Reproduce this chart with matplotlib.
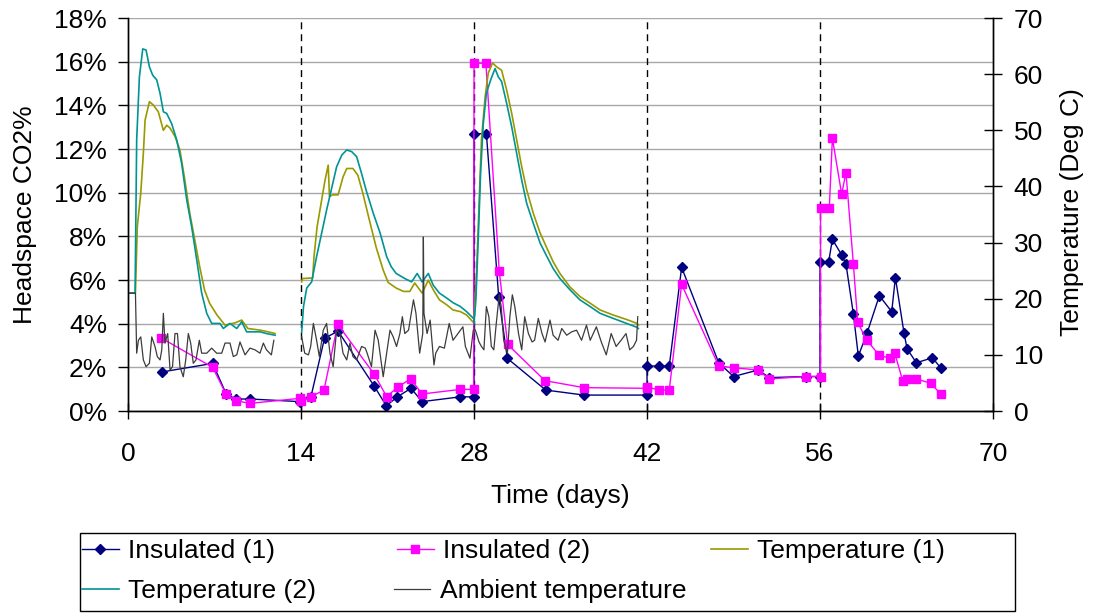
import matplotlib
matplotlib.use('Agg')
import matplotlib.pyplot as plt
from matplotlib.ticker import FuncFormatter
from matplotlib.patches import Rectangle

plt.rcParams['font.family'] = ['Liberation Sans', 'DejaVu Sans']

nan = float('nan')

# headspace CO2 (%) - insulated containers
ins1_day = [2.75, 6.85, 7.93, 8.7, 9.9, 13.9, 14.8, 15.9, 17.0, 19.9, 20.9, 21.8, 22.9, 23.8, 26.9,
            28.0, 28.0, 29.0, 30.0, 30.7, 33.8, 36.9, 42.0, 42.0, 43.0, 43.8, 44.8, 47.8, 49.0,
            51.0, 51.9, 54.9, 56.0, 56.0, 56.7, 57.0, 57.75, 58.1, 58.7, 59.1, 59.8, 60.8, 61.8,
            62.1, 62.8, 63.05, 63.8, 65.1, 65.8]
ins1_co2 = [1.79, 2.18, 0.8, 0.55, 0.55, 0.43, 0.65, 3.33, 3.66, 1.16, 0.24, 0.65, 1.04, 0.43, 0.65,
            0.65, 12.7, 12.7, 5.2, 2.41, 0.96, 0.73, 0.73, 2.06, 2.06, 2.06, 6.58, 2.21, 1.58,
            1.88, 1.53, 1.58, 1.58, 6.84, 6.84, 7.86, 7.15, 6.73, 4.44, 2.52, 3.56, 5.28, 4.55,
            6.11, 3.56, 2.84, 2.21, 2.44, 1.95]

ins2_day = [2.64, 6.85, 7.93, 8.74, 9.87, 13.9, 14.0, 14.8, 15.86, 16.97, 19.93, 20.93, 21.82, 22.87,
            23.79, 26.9, 27.97, 28.0, 28.96, 30.04, 30.72, 33.74, 36.9, 41.97, 42.0, 43.0, 43.8,
            44.8, 47.8, 49.0, 51.0, 51.86, 54.9, 56.04, 56.04, 56.75, 57.0, 57.75, 58.1, 58.7,
            59.05, 59.77, 60.8, 61.7, 62.05, 62.7, 63.0, 63.8, 64.96, 65.8]
ins2_co2 = [3.36, 2.0, 0.77, 0.47, 0.35, 0.58, 0.45, 0.65, 0.96, 3.97, 1.68, 0.66, 1.09, 1.48,
            0.78, 0.99, 0.99, 15.93, 15.93, 6.42, 3.05, 1.39, 1.07, 1.04, 1.1, 0.96, 0.96,
            5.8, 2.07, 1.98, 1.88, 1.47, 1.58, 1.58, 9.29, 9.29, 12.5, 9.93, 10.92, 6.72,
            4.06, 3.25, 2.55, 2.41, 2.64, 1.37, 1.45, 1.47, 1.27, 0.76]

# compost temperature (deg C), three batches separated by nan
temp1_day = [0.08, 0.6, 0.75, 1.03, 1.24, 1.38, 1.73, 2.05, 2.45, 2.86, 3.13, 3.4, 3.8, 4.2, 4.6,
             5.0, 5.4, 5.8, 6.2, 6.6, 7.2, 7.85, 8.65, 9.2, 9.7, 10.7, 11.35, 11.9, nan,
             14.05, 14.13, 14.94, 15.05, 15.3, 15.67, 15.94, 16.2, 16.3, 16.56, 17.0, 17.4, 17.7,
             18.2, 18.6, 19.0, 19.6, 20.1, 20.65, 21.05, 21.7, 22.3, 22.8, 23.2, 23.8, 24.3, 24.7,
             25.2, 25.8, 26.3, 26.9, 27.4, 27.9, nan,
             28.0, 28.2, 28.4, 28.6, 28.9, 29.15, 29.5, 29.83, 30.23, 30.64, 31.05, 31.45, 31.86,
             32.26, 32.8, 33.35, 33.9, 34.4, 34.95, 35.76, 36.57, 37.4, 38.2, 39.26, 40.35, 41.2,
             41.3]
temp1_val = [21.0, 21.0, 32.8, 38.8, 45.9, 51.8, 55.1, 54.5, 53.3, 50.0, 50.9, 50.4, 48.9, 46.5,
             41.1, 35.2, 30.5, 25.7, 21.5, 19.2, 17.1, 15.3, 15.7, 16.2, 14.7, 14.4, 14.1, 13.8, nan,
             23.0, 23.6, 23.7, 27.5, 32.8, 37.6, 41.1, 43.8, 38.2, 38.5, 38.5, 41.7, 43.2, 43.2,
             42.0, 38.8, 33.4, 29.0, 25.1, 22.9, 21.9, 21.3, 21.3, 22.8, 21.0, 23.3, 21.6, 19.8,
             18.9, 18.0, 17.7, 17.1, 15.9, nan,
             16.5, 24.5, 36.4, 48.3, 56.0, 60.2, 62.0, 61.3, 60.7, 57.2, 53.0, 48.3, 43.5, 39.4,
             35.2, 31.7, 29.0, 26.6, 24.5, 22.1, 20.4, 19.2, 18.0, 17.1, 16.3, 15.6, 15.3]

temp2_day = [0.08, 0.57, 0.7, 0.92, 1.19, 1.46, 1.73, 2.0, 2.32, 2.59, 2.86, 3.13, 3.53, 3.94, 4.34,
             4.75, 5.15, 5.56, 5.96, 6.37, 6.77, 7.44, 7.71, 8.25, 8.8, 9.2, 9.6, 10.7, 11.2, 11.9,
             nan,
             14.05, 14.2, 14.46, 14.86, 15.26, 15.67, 16.07, 16.48, 16.88, 17.3, 17.7, 18.1, 18.5,
             18.9, 19.3, 19.85, 20.4, 20.93, 21.3, 21.7, 22.4, 22.95, 23.4, 23.8, 24.3, 24.7, 25.2,
             25.8, 26.3, 26.9, 27.4, 27.95, nan,
             28.0, 28.15, 28.34, 28.53, 28.75, 29.0, 29.35, 29.7, 29.97, 30.23, 30.64, 31.05, 31.45,
             31.86, 32.26, 32.8, 33.35, 33.9, 34.4, 34.95, 35.76, 36.57, 37.4, 38.2, 39.26, 40.35,
             41.2, 41.3]
temp2_val = [21.0, 21.0, 48.3, 59.5, 64.5, 64.3, 61.3, 59.8, 59.0, 56.6, 53.3, 53.0, 51.2, 48.3,
             44.1, 37.6, 32.8, 26.9, 21.0, 17.4, 15.6, 15.6, 14.7, 15.6, 14.7, 15.9, 14.1, 14.1,
             13.8, 13.5, nan,
             14.0, 18.6, 21.9, 23.0, 27.5, 31.7, 35.8, 39.7, 43.5, 45.6, 46.5, 46.2, 45.3, 42.3,
             39.1, 35.2, 31.7, 27.5, 25.7, 24.5, 23.6, 23.0, 24.5, 23.0, 24.5, 22.4, 21.0, 20.1,
             19.3, 18.6, 17.7, 16.5, nan,
             15.6, 19.8, 30.5, 42.3, 51.2, 56.6, 59.0, 61.0, 59.5, 58.7, 54.8, 50.6, 45.9, 41.1,
             37.0, 33.4, 29.9, 27.5, 25.4, 23.6, 21.6, 19.8, 18.6, 17.4, 16.5, 15.6, 14.9, 14.7]

amb_day = [0.08, 0.6, 0.7, 0.84, 1.03, 1.24, 1.46, 1.73, 1.92, 2.18, 2.37, 2.59, 2.73, 2.86, 2.99,
           3.21, 3.4, 3.6, 3.8, 4.0, 4.2, 4.47, 4.67, 4.88, 5.07, 5.28, 5.5, 5.77, 5.96, 6.37,
           6.77, 7.17, 7.58, 7.85, 8.25, 8.52, 8.8, 9.06, 9.47, 9.87, 10.27, 10.68, 10.95, 11.2,
           11.6, 11.8, nan,
           14.05, 14.3, 14.6, 14.78, 15.0, 15.26, 15.48, 15.8, 16.07, 16.34, 16.6, 16.88, 17.15,
           17.4, 17.7, 17.96, 18.2, 18.5, 18.9, 19.2, 19.35, 19.7, 19.99, 20.25, 20.65, 20.93,
           21.2, 21.46, 21.73, 22.0, 22.2, 22.4, 22.7, 23.1, 23.3, 23.6, 23.85, 23.9, 23.95,
           24.2, 24.45, 24.76, 24.9, 25.2, 25.6, 25.99, 26.3, 26.7, 27.1, 27.3, 27.67, 27.94, nan,
           28.0, 28.2, 28.4, 28.6, 28.8, 29.0, 29.2, 29.4, 29.6, 29.8, 30.04, 30.2, 30.4, 30.7,
           30.9, 31.1, 31.3, 31.6, 31.86, 32.1, 32.4, 32.7, 32.9, 33.2, 33.5, 33.75, 34.15, 34.4,
           34.8, 35.1, 35.5, 35.9, 36.3, 36.7, 37.1, 37.4, 37.9, 38.3, 38.7, 39.1, 39.5, 39.9,
           40.3, 40.6, 40.9, 41.15, 41.25]
amb_val = [21.0, 21.0, 10.3, 12.6, 13.2, 9.1, 7.9, 8.5, 13.2, 11.5, 9.7, 9.1, 10.9, 17.4, 12.1,
           13.8, 7.3, 7.9, 13.8, 13.8, 7.9, 6.1, 9.1, 13.8, 12.1, 8.5, 9.1, 12.6, 10.3, 10.3,
           11.2, 10.3, 10.3, 12.1, 12.1, 9.7, 10.0, 12.3, 10.0, 11.2, 10.9, 10.3, 12.1, 10.9,
           10.0, 12.6, nan,
           13.2, 10.3, 10.0, 11.5, 15.6, 12.6, 9.7, 14.4, 15.6, 10.3, 7.9, 14.4, 13.8,
           10.3, 9.1, 12.1, 9.7, 9.1, 11.5, 11.2, 10.3, 7.9, 14.4, 12.6, 6.1, 10.3,
           14.4, 13.2, 11.5, 13.8, 16.8, 13.8, 14.4, 19.8, 17.4, 10.3, 13.8, 31.0, 17.4,
           13.8, 16.2, 8.2, 10.3, 11.5, 11.2, 15.6, 12.6, 13.8, 15.0, 11.5, 9.4, 14.4, nan,
           15.0, 13.8, 12.3, 11.5, 10.9, 18.6, 16.8, 11.5, 10.9, 15.6, 20.7, 18.6, 12.6, 10.3,
           16.8, 20.7, 18.6, 13.8, 10.9, 16.8, 13.8, 12.3, 12.6, 16.5, 13.8, 12.3, 16.2, 13.5,
           12.6, 14.7, 13.5, 14.1, 14.4, 12.6, 15.3, 12.6, 15.0, 12.3, 10.0, 13.8, 11.5, 12.6,
           13.8, 10.9, 11.5, 12.6, 16.8]

phase_days = [14, 28, 42, 56]

FS = 19

fig = plt.figure(figsize=(10.98, 6.13), dpi=100)
ax = fig.add_axes([0.1166, 0.3295, 0.7878, 0.6411])
ax2 = ax.twinx()

ax.yaxis.grid(True, color='#a8a8a8', lw=1)
ax.set_axisbelow(True)
for d in phase_days:
    ax.axvline(d, color='black', lw=1, ls=(0, (5, 3.6)), zorder=1)

h1, = ax.plot(ins1_day, ins1_co2, color='#000080', lw=1, marker='D', ms=5.5, label='Insulated (1)')
h2, = ax.plot(ins2_day, ins2_co2, color='#ff00ff', lw=1, marker='s', ms=5.5, label='Insulated (2)')

h3, = ax2.plot(temp1_day, temp1_val, color='#999900', lw=1.2, label='Temperature (1)')
h4, = ax2.plot(temp2_day, temp2_val, color='#009494', lw=1.2, label='Temperature (2)')
h5, = ax2.plot(amb_day, amb_val, color='#3c3c3c', lw=0.9, label='Ambient temperature')

ax.set_xlim(0, 70)
ax.set_xticks(range(0, 71, 14))
ax.set_ylim(0, 18)
ax.set_yticks(range(0, 19, 2))
ax.yaxis.set_major_formatter(FuncFormatter(lambda v, p: '%d%%' % v))
ax2.set_ylim(0, 70)
ax2.set_yticks(range(0, 71, 10))

for a in (ax, ax2):
    a.spines['top'].set_visible(False)
    for s in ('left', 'right', 'bottom'):
        a.spines[s].set_color('black')
        a.spines[s].set_linewidth(1)

ax.tick_params(axis='y', direction='out', length=7, width=1, pad=8, labelsize=FS)
ax.tick_params(axis='x', direction='inout', length=12, width=1, pad=16, labelsize=FS)
ax2.tick_params(axis='y', direction='inout', length=13, width=1, pad=8.5, labelsize=FS)

ax.set_xlabel('Time (days)', fontsize=FS)
ax.set_ylabel('Headspace CO2%', fontsize=FS)
ax2.set_ylabel('Temperature (Deg C)', fontsize=FS)
ax.xaxis.set_label_coords(0.4995, -0.185)
ax.yaxis.set_label_coords(-0.105, 0.5)
ax2.yaxis.set_label_coords(1.0775, 0.505)

# legend: two rows laid out like the original, one frame round both
W, H = 1098.0, 613.0
common = dict(loc='center left', frameon=False, fontsize=FS, handlelength=1.4,
              handletextpad=0.35, borderpad=0, borderaxespad=0, numpoints=1)
fig.legend([h1, h2, h3], [h1.get_label(), h2.get_label(), h3.get_label()], ncol=3,
           columnspacing=4.6, bbox_to_anchor=(82 / W, 1 - 551 / H), **common)
fig.legend([h4, h5], [h4.get_label(), h5.get_label()], ncol=2,
           columnspacing=2.93, bbox_to_anchor=(82 / W, 1 - 591 / H), **common)
fig.add_artist(Rectangle((80 / W, 2 / H), 935 / W, 78 / H, transform=fig.transFigure,
                         fill=False, ec='black', lw=1))

fig.savefig('out.png', dpi=100)
